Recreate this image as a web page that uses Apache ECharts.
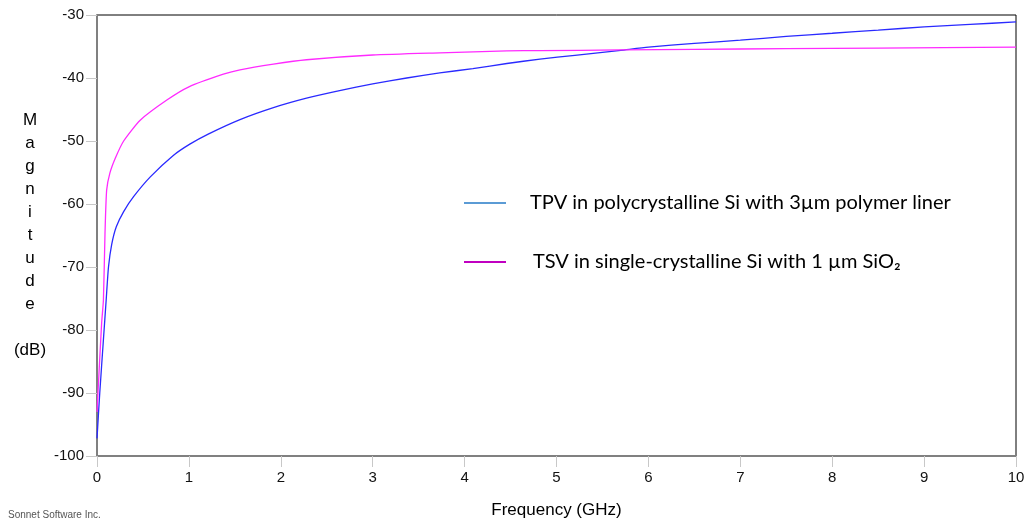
<!DOCTYPE html>
<html>
<head>
<meta charset="utf-8">
<script src="https://cdn.jsdelivr.net/npm/echarts@6/dist/echarts.min.js"></script>
<style>html,body{margin:0;padding:0;background:#fff}#c{width:1030px;height:527px}</style>
</head>
<body>
<div id="c"></div>
<script>
const seriesNames = [
  'TPV in polycrystalline Si with 3\u00b5m polymer liner',
  'TSV in single-crystalline Si with 1 \u00b5m SiO\u2082'
];
const tpvFreq = [0, 0.03, 0.07, 0.1, 0.125, 0.16, 0.21, 0.29, 0.4, 0.58, 0.83, 1.01, 1.21, 1.556, 1.92, 2.28, 2.64, 3.0, 3.37, 3.73, 4.09, 4.46, 4.82, 5.2, 5.7, 6.0, 6.5, 7.0, 7.5, 8.0, 8.5, 9.0, 9.5, 10.0];
const tpvMag  = [-97.2, -90, -81.5, -75.2, -70, -66.4, -63.6, -61.2, -58.8, -55.7, -52.3, -50.5, -48.9, -46.6, -44.7, -43.2, -42.0, -40.95, -40.0, -39.2, -38.5, -37.7, -37.0, -36.4, -35.6, -35.1, -34.5, -34.0, -33.4, -32.9, -32.4, -31.9, -31.5, -31.1];
const tsvFreq = [0, 0.014, 0.05, 0.07, 0.087, 0.105, 0.14, 0.2, 0.29, 0.47, 0.76, 1.0, 1.375, 1.556, 1.92, 2.28, 3.0, 3.73, 4.46, 4.82, 5.7, 6.5, 7.5, 8.5, 10.0];
const tsvMag  = [-93, -89, -79, -75.2, -64.7, -57.8, -55.1, -52.7, -50.0, -46.7, -43.5, -41.4, -39.4, -38.7, -37.8, -37.1, -36.35, -36.0, -35.7, -35.65, -35.55, -35.45, -35.35, -35.25, -35.1];
const yAxisTitle = 'M\na\ng\nn\ni\nt\nu\nd\ne\n\n(dB)';
const xAxisTitle = 'Frequency (GHz)';
const footer = 'Sonnet Software Inc.';

const zip = (xs, ys) => xs.map((x, i) => [x, ys[i]]);
const chart = echarts.init(document.getElementById('c'));
const legendText = { color: '#000', fontSize: 20, fontFamily: 'Lato', padding: [0, 0, 0, 19] };
chart.setOption({
  animation: false,
  title: { text: footer, left: 3, top: 505, textStyle: { fontSize: 10, fontWeight: 'normal', color: '#555', fontFamily: 'Liberation Sans' } },
  grid: { left: 97, right: 14, top: 15, bottom: 71, show: true, borderColor: '#000', borderWidth: 1 },
  legend: [
    { data: [{ name: seriesNames[0], itemStyle: { color: '#5b9bd5' } }], left: 459, top: 188, icon: 'rect', itemWidth: 42, itemHeight: 2, textStyle: legendText, selectedMode: false },
    { data: [{ name: seriesNames[1], itemStyle: { color: '#c000c0' } }], left: 459, top: 247, icon: 'rect', itemWidth: 42, itemHeight: 2, textStyle: Object.assign({}, legendText, { padding: [0, 0, 0, 22] }), selectedMode: false }
  ],
  xAxis: {
    type: 'value', min: 0, max: 10, interval: 1,
    name: xAxisTitle, nameLocation: 'middle', nameGap: 46,
    nameTextStyle: { fontSize: 17, color: '#000', fontFamily: 'Liberation Sans' },
    axisLine: { lineStyle: { color: '#808080', width: 2 } },
    axisTick: { length: 11, lineStyle: { color: '#c8c8c8' } },
    axisLabel: { fontSize: 15, color: '#111', margin: 14, fontFamily: 'Liberation Sans' },
    splitLine: { show: false }
  },
  yAxis: {
    type: 'value', min: -100, max: -30, interval: 10,
    name: yAxisTitle, nameLocation: 'middle', nameGap: 67, nameRotate: 0,
    nameTextStyle: { fontSize: 17, lineHeight: 23, color: '#000', align: 'center', verticalAlign: 'middle', fontFamily: 'Liberation Sans' },
    axisLine: { show: true, lineStyle: { color: '#808080', width: 2 } },
    axisTick: { show: true, length: 11, lineStyle: { color: '#c8c8c8' } },
    axisLabel: { fontSize: 15, color: '#111', margin: 13, fontFamily: 'Liberation Sans' },
    splitLine: { show: false }
  },
  series: [
    { name: seriesNames[0], type: 'line', data: zip(tpvFreq, tpvMag), showSymbol: false, smooth: 0.2, lineStyle: { color: '#2a2aff', width: 1.3 }, itemStyle: { color: '#2a2aff' } },
    { name: seriesNames[1], type: 'line', data: zip(tsvFreq, tsvMag), showSymbol: false, smooth: 0.2, lineStyle: { color: '#ff2aff', width: 1.3 }, itemStyle: { color: '#ff2aff' } }
  ]
});
</script>
</body>
</html>
